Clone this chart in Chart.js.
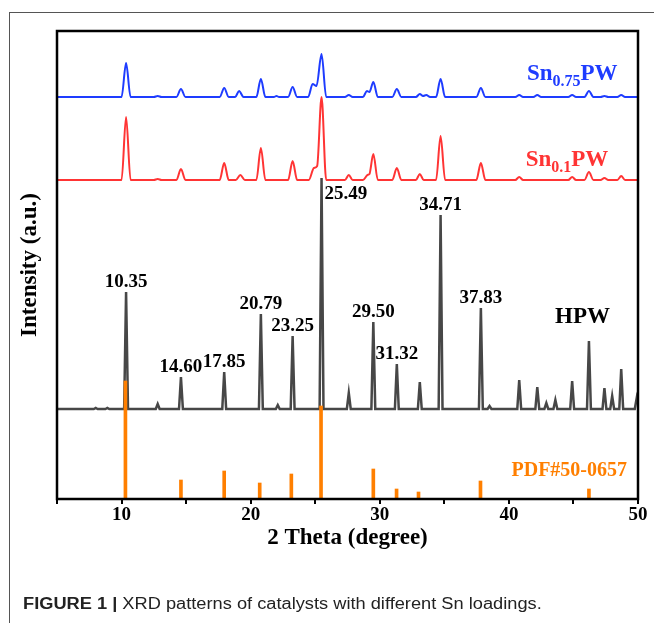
<!DOCTYPE html>
<html>
<head>
<meta charset="utf-8">
<script src="https://cdn.jsdelivr.net/npm/chart.js@4.4.0/dist/chart.umd.min.js"></script>
<style>
  html, body { margin: 0; padding: 0; background: #fff; }
  #wrap { position: relative; width: 654px; height: 623px; overflow: hidden; }
  #frame { position: absolute; left: 9px; top: 12px; width: 660px; height: 640px; border-top: 1px solid #555; border-left: 1px solid #555; }
  #xrd { position: absolute; left: 0; top: 0; }
  #caption { position: absolute; left: 23px; top: 595px; font: 16px "Liberation Sans", Arial, sans-serif; color: #222; white-space: nowrap; transform: scaleX(1.14); transform-origin: left top; }
  #caption b { font-weight: bold; }
</style>
</head>
<body>
<div id="wrap">
  <div id="frame"></div>
  <canvas id="xrd" width="654" height="623"></canvas>
  <div id="caption"><b>FIGURE 1 |</b> XRD patterns of catalysts with different Sn loadings.</div>
</div>
<script>
// HPW pattern (counts above its own baseline)
const hpwTheta = [5, 7.85, 8.0, 8.15, 8.75, 8.9, 9.05, 10.2, 10.35, 10.5, 12.65, 12.8, 12.95, 14.45, 14.6, 14.75,
  17.8, 17.95, 18.1, 20.64, 20.79, 20.94, 21.95, 22.1, 22.25, 23.1, 23.25, 23.4, 25.34, 25.49, 25.64,
  27.45, 27.6, 27.75, 29.35, 29.5, 29.65, 31.17, 31.32, 31.47, 32.95, 33.1, 33.25, 34.56, 34.71, 34.86,
  37.68, 37.83, 37.98, 38.35, 38.5, 38.65, 40.65, 40.8, 40.95, 42.05, 42.2, 42.35, 42.75, 42.9, 43.05,
  43.45, 43.6, 43.75, 44.75, 44.9, 45.05, 46.05, 46.2, 46.35, 47.25, 47.4, 47.55, 47.85, 48.0, 48.15,
  48.55, 48.7, 48.85, 49.75, 49.9, 50];
const hpwCounts = [0, 0, 1, 0, 0, 1, 0, 0, 117, 0, 0, 5, 0, 0, 32, 0,
  0, 37, 0, 0, 95, 0, 0, 4, 0, 0, 73, 0, 0, 231, 0,
  0, 16, 0, 0, 87, 0, 0, 45, 0, 0, 27, 0, 0, 194, 0,
  0, 101, 0, 0, 3, 0, 0, 29, 0, 0, 22, 0, 0, 6, 0,
  0, 9, 0, 0, 28, 0, 0, 68, 0, 0, 21, 0, 0, 13, 0,
  0, 40, 0, 0, 11, 5];

// Sn0.1PW pattern
const sn01Theta = [5, 10.0, 10.35, 10.7, 12.5, 12.8, 13.1, 14.25, 14.6, 14.95, 17.6, 17.95, 18.3, 18.85, 19.2, 19.55,
  20.44, 20.79, 21.14, 22.9, 23.25, 23.6, 24.5, 24.9, 25.15, 25.49, 25.85, 27.3, 27.6, 27.9,
  28.7, 29.05, 29.2, 29.5, 29.85, 30.97, 31.32, 31.67, 32.8, 33.1, 33.4, 34.36, 34.71, 35.06,
  37.48, 37.83, 38.18, 40.5, 40.8, 41.1, 44.6, 44.9, 45.2, 45.85, 46.2, 46.55, 47.1, 47.4, 47.7,
  48.4, 48.7, 49.0, 50];
const sn01Counts = [0, 0, 63, 0, 0, 1, 0, 0, 11, 0, 0, 17, 0, 0, 5, 0,
  0, 32, 0, 0, 19, 0, 0, 12, 14, 83, 0, 0, 5, 0,
  0, 5, 6, 26, 0, 0, 12, 0, 0, 6, 0, 0, 44, 0,
  0, 17, 0, 0, 3, 0, 0, 3, 0, 0, 8, 0, 0, 2, 0,
  0, 4, 0, 0];

// Sn0.75PW pattern
const sn075Theta = [5, 10.0, 10.35, 10.7, 12.5, 12.8, 13.1, 14.25, 14.6, 14.95, 17.6, 17.95, 18.3, 18.8, 19.1, 19.45,
  20.44, 20.79, 21.14, 21.8, 22.0, 22.2, 22.9, 23.25, 23.6, 24.45, 24.8, 25.1, 25.49, 25.85,
  27.3, 27.6, 27.9, 28.7, 29.0, 29.2, 29.5, 29.85, 30.97, 31.32, 31.67, 32.8, 33.1, 33.35, 33.6, 33.9,
  34.36, 34.71, 35.06, 37.48, 37.83, 38.18, 40.5, 40.8, 41.1, 41.9, 42.2, 42.5, 44.6, 44.9, 45.2,
  45.85, 46.2, 46.55, 47.1, 47.4, 47.7, 48.4, 48.7, 49.0, 50];
const sn075Counts = [0, 0, 34, 0, 0, 1, 0, 0, 8, 0, 0, 9, 0, 0, 6, 0,
  0, 18, 0, 0, 1, 0, 0, 10, 0, 0, 13, 11, 43, 0,
  0, 2, 0, 0, 6, 5, 15, 0, 0, 8, 0, 0, 3, 1, 2, 0,
  0, 18, 0, 0, 9, 0, 0, 2, 0, 0, 2, 0, 0, 2, 0,
  0, 6, 0, 0, 1, 0, 0, 2, 0, 0];

// PDF#50-0657 reference lines
const pdfTheta = [10.3, 14.6, 17.95, 20.7, 23.15, 25.45, 29.5, 31.3, 33.0, 37.8, 46.2];
const pdfCounts = [118, 19, 28, 16, 25, 93, 30, 10, 7, 18, 10];

const peakLabels = ['10.35', '14.60', '17.85', '20.79', '23.25', '25.49', '29.50', '31.32', '34.71', '37.83'];
const xTicks = [5, 50, 5]; // min, max, step

// vertical offsets of the stacked patterns
const hpwOffset = 90;
const sn01Offset = 319;
const sn075Offset = 402;

const serif = '"Liberation Serif", "Times New Roman", serif';
const colors = { hpw: '#474747', sn01: '#ff3434', sn075: '#1e3cff', pdf: '#ff7f00' };

function toPoints(theta, counts, offset) {
    return theta.map((t, i) => ({ x: t, y: counts[i] + offset }));
}

// frame round the plot area
const framePlugin = {
    id: 'frame',
    afterDatasetsDraw(chart) {
        const { ctx, chartArea: a } = chart;
        ctx.save();
        ctx.strokeStyle = '#000';
        ctx.lineWidth = 2.5;
        ctx.strokeRect(a.left, a.top, a.right - a.left, a.bottom - a.top);
        ctx.restore();
    }
};

// peak values and series names
const labelPlugin = {
    id: 'labels',
    afterDraw(chart) {
        const { ctx } = chart;
        const xs = chart.scales.x, ys = chart.scales.y;
        ctx.save();
        ctx.fillStyle = '#000';
        ctx.font = 'bold 19px ' + serif;
        ctx.textBaseline = 'middle';
        peakLabels.forEach(lbl => {
            const v = parseFloat(lbl);
            // tallest HPW point close to the labelled position
            let best = -1;
            hpwTheta.forEach((t, i) => {
                if (Math.abs(t - v) <= 0.2 && (best < 0 || hpwCounts[i] > hpwCounts[best])) best = i;
            });
            const px = xs.getPixelForValue(hpwTheta[best]);
            const py = ys.getPixelForValue(hpwCounts[best] + hpwOffset);
            if (lbl === '25.49') {
                ctx.textAlign = 'left';
                ctx.fillText(lbl, px + 3, py + 16);
            } else {
                ctx.textAlign = 'center';
                ctx.fillText(lbl, px, py - 10);
            }
        });

        ctx.font = 'bold 23px ' + serif;
        ctx.textAlign = 'center';
        ctx.fillText('HPW', xs.getPixelForValue(45.7), ys.getPixelForValue(182));

        const drawSn = (sub, x, y, color) => {
            ctx.fillStyle = color;
            ctx.textAlign = 'left';
            ctx.textBaseline = 'alphabetic';
            let px = xs.getPixelForValue(x);
            const py = ys.getPixelForValue(y);
            ctx.font = 'bold 23px ' + serif;
            ctx.fillText('Sn', px, py);
            px += ctx.measureText('Sn').width;
            ctx.font = 'bold 16px ' + serif;
            ctx.fillText(sub, px, py + 6);
            px += ctx.measureText(sub).width;
            ctx.font = 'bold 23px ' + serif;
            ctx.fillText('PW', px, py);
        };
        drawSn('0.75', 41.4, 419, colors.sn075);
        drawSn('0.1', 41.3, 333, colors.sn01);

        ctx.fillStyle = colors.pdf;
        ctx.font = 'bold 20px ' + serif;
        ctx.textAlign = 'right';
        ctx.textBaseline = 'middle';
        ctx.fillText('PDF#50-0657', xs.getPixelForValue(49.15), ys.getPixelForValue(28));
        ctx.restore();
    }
};

const ctx = document.getElementById('xrd').getContext('2d');
new Chart(ctx, {
    type: 'line',
    data: {
        datasets: [
            {
                type: 'bar',
                label: 'PDF#50-0657',
                data: toPoints(pdfTheta, pdfCounts, 0),
                backgroundColor: colors.pdf,
                barThickness: 3
            },
            {
                label: 'HPW',
                data: toPoints(hpwTheta, hpwCounts, hpwOffset),
                borderColor: colors.hpw,
                borderWidth: 2.5,
                pointRadius: 0,
                tension: 0
            },
            {
                label: 'Sn0.1PW',
                data: toPoints(sn01Theta, sn01Counts, sn01Offset),
                borderColor: colors.sn01,
                borderWidth: 2,
                pointRadius: 0,
                cubicInterpolationMode: 'monotone'
            },
            {
                label: 'Sn0.75PW',
                data: toPoints(sn075Theta, sn075Counts, sn075Offset),
                borderColor: colors.sn075,
                borderWidth: 2,
                pointRadius: 0,
                cubicInterpolationMode: 'monotone'
            }
        ]
    },
    options: {
        responsive: false,
        animation: false,
        devicePixelRatio: 1,
        layout: { padding: { top: 31, right: 16, left: 0, bottom: 0 } },
        plugins: {
            legend: { display: false },
            tooltip: { enabled: false }
        },
        scales: {
            x: {
                type: 'linear',
                min: xTicks[0],
                max: xTicks[1],
                offset: false,
                ticks: {
                    stepSize: xTicks[2],
                    padding: 0,
                    color: '#000',
                    font: { family: serif, size: 19, weight: 'bold' },
                    maxRotation: 0,
                    autoSkip: false,
                    callback: v => (v % 10 === 0 ? String(v) : '')
                },
                grid: {
                    offset: false,
                    drawOnChartArea: false,
                    drawTicks: true,
                    tickLength: 5,
                    color: '#000',
                    lineWidth: 2
                },
                border: { display: false },
                title: {
                    display: true,
                    text: '2 Theta (degree)',
                    color: '#000',
                    font: { family: serif, size: 23, weight: 'bold' },
                    padding: { top: 0, bottom: 71 }
                },
                afterFit: scale => { scale.height = 124; }
            },
            y: {
                type: 'linear',
                min: 0,
                max: 468,
                ticks: { display: false },
                grid: { display: false },
                border: { display: false },
                title: {
                    display: true,
                    text: 'Intensity (a.u.)',
                    color: '#000',
                    font: { family: serif, size: 23, weight: 'bold' },
                    padding: { top: 16, bottom: 0 }
                },
                afterFit: scale => { scale.width = 57; }
            }
        }
    },
    plugins: [framePlugin, labelPlugin]
});
</script>
</body>
</html>
